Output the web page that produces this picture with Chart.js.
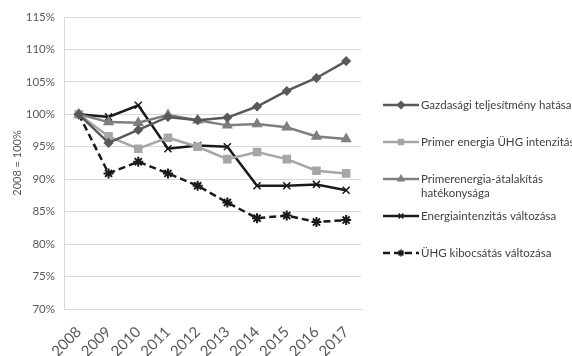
<!DOCTYPE html>
<html>
<head>
<meta charset="utf-8">
<script src="https://cdn.jsdelivr.net/npm/chart.js@4"></script>
<style>
  html, body { margin: 0; padding: 0; background: #fff; }
  #wrap { width: 572px; height: 356px; }
</style>
</head>
<body>
<div id="wrap"><canvas id="chart" width="572" height="356"></canvas></div>
<script>
// adatok (2008 = 100%)
const years = ['2008', '2009', '2010', '2011', '2012', '2013', '2014', '2015', '2016', '2017'];
const gazdasagi = [100, 95.6, 97.6, 99.6, 99.1, 99.5, 101.2, 103.6, 105.6, 108.2];
const primerUhg = [100, 96.6, 94.7, 96.4, 95.0, 93.1, 94.2, 93.1, 91.3, 90.9];
const atalakitas = [100, 98.8, 98.7, 99.9, 99.1, 98.3, 98.5, 98.0, 96.6, 96.2];
const energiaint = [100, 99.6, 101.4, 94.7, 95.2, 95.0, 89.0, 89.0, 89.2, 88.3];
const uhgKibocsatas = [100, 90.9, 92.7, 90.9, 89.0, 86.4, 84.0, 84.4, 83.4, 83.7];
const legendLabels = [
    ['Gazdasági teljesítmény hatása'],
    ['Primer energia ÜHG intenzitása'],
    ['Primerenergia-átalakítás', 'hatékonysága'],
    ['Energiaintenzitás változása'],
    ['ÜHG kibocsátás változása']
];

const FONT = 'Lato, "Liberation Sans", sans-serif';

// saját jelmagyarázat a jobb oldalon
const sideLegend = {
    id: 'sideLegend',
    afterDraw(chart) {
        const ctx = chart.ctx;
        const rows = [105, 142, 179, 216, 253];
        ctx.save();
        chart.data.datasets.forEach((ds, i) => {
            const y = rows[i];
            ctx.strokeStyle = ds.borderColor;
            ctx.lineWidth = 2.5;
            ctx.setLineDash(ds.borderDash || []);
            ctx.beginPath();
            ctx.moveTo(383, y);
            ctx.lineTo(419, y);
            ctx.stroke();
            ctx.setLineDash([]);
            ctx.fillStyle = ds.borderColor;
            ctx.lineWidth = 1.5;
            Chart.helpers.drawPoint(ctx, {
                pointStyle: ds.pointStyle,
                radius: 3.5,
                borderWidth: 1.5,
                rotation: 0
            }, 401, y);
            ctx.fillStyle = '#404040';
            ctx.font = '11.5px ' + FONT;
            ctx.textBaseline = 'middle';
            legendLabels[i].forEach((line, j) => {
                ctx.fillText(line, 421, y + j * 14);
            });
        });
        ctx.restore();
    }
};

function series(data, color, style, extra) {
    return Object.assign({
        data: data,
        borderColor: color,
        backgroundColor: color,
        pointBackgroundColor: color,
        pointBorderColor: color,
        borderWidth: 2.5,
        pointStyle: style,
        pointRadius: 4,
        pointBorderWidth: 1.5,
        tension: 0
    }, extra || {});
}

new Chart(document.getElementById('chart'), {
    type: 'line',
    data: {
        labels: years,
        datasets: [
            series(gazdasagi, '#595959', 'rectRot', { pointRadius: 4 }),
            series(primerUhg, '#a6a6a6', 'rect', { pointRadius: 5 }),
            series(atalakitas, '#7f7f7f', 'triangle', { pointRadius: 5 }),
            series(energiaint, '#1a1a1a', 'crossRot', { pointRadius: 5 }),
            series(uhgKibocsatas, '#1a1a1a', 'star', { pointRadius: 5, borderDash: [7, 4], pointBorderWidth: 2 })
        ]
    },
    options: {
        responsive: false,
        animation: false,
        layout: { padding: { top: 17, right: 211, left: 0, bottom: 0 } },
        plugins: {
            legend: { display: false },
            tooltip: { enabled: false }
        },
        scales: {
            x: {
                offset: true,
                grid: { display: false, drawTicks: false },
                border: { color: '#d9d9d9', width: 1 },
                ticks: {
                    color: '#595959',
                    font: { family: FONT, size: 15 },
                    minRotation: 45,
                    maxRotation: 45,
                    padding: 14
                },
                afterFit(scale) { scale.height = 47; }
            },
            y: {
                min: 70,
                max: 115,
                grid: { color: '#d9d9d9', drawTicks: false },
                border: { display: true, color: '#d9d9d9' },
                ticks: {
                    stepSize: 5,
                    color: '#595959',
                    font: { family: FONT, size: 11.5 },
                    padding: 9,
                    callback: v => v + '%'
                },
                title: {
                    display: true,
                    text: '2008 = 100%',
                    color: '#595959',
                    font: { family: FONT, size: 11 },
                    padding: { top: 11, bottom: 0 }
                },
                afterFit(scale) { scale.width = 64; }
            }
        }
    },
    plugins: [sideLegend]
});
</script>
</body>
</html>
